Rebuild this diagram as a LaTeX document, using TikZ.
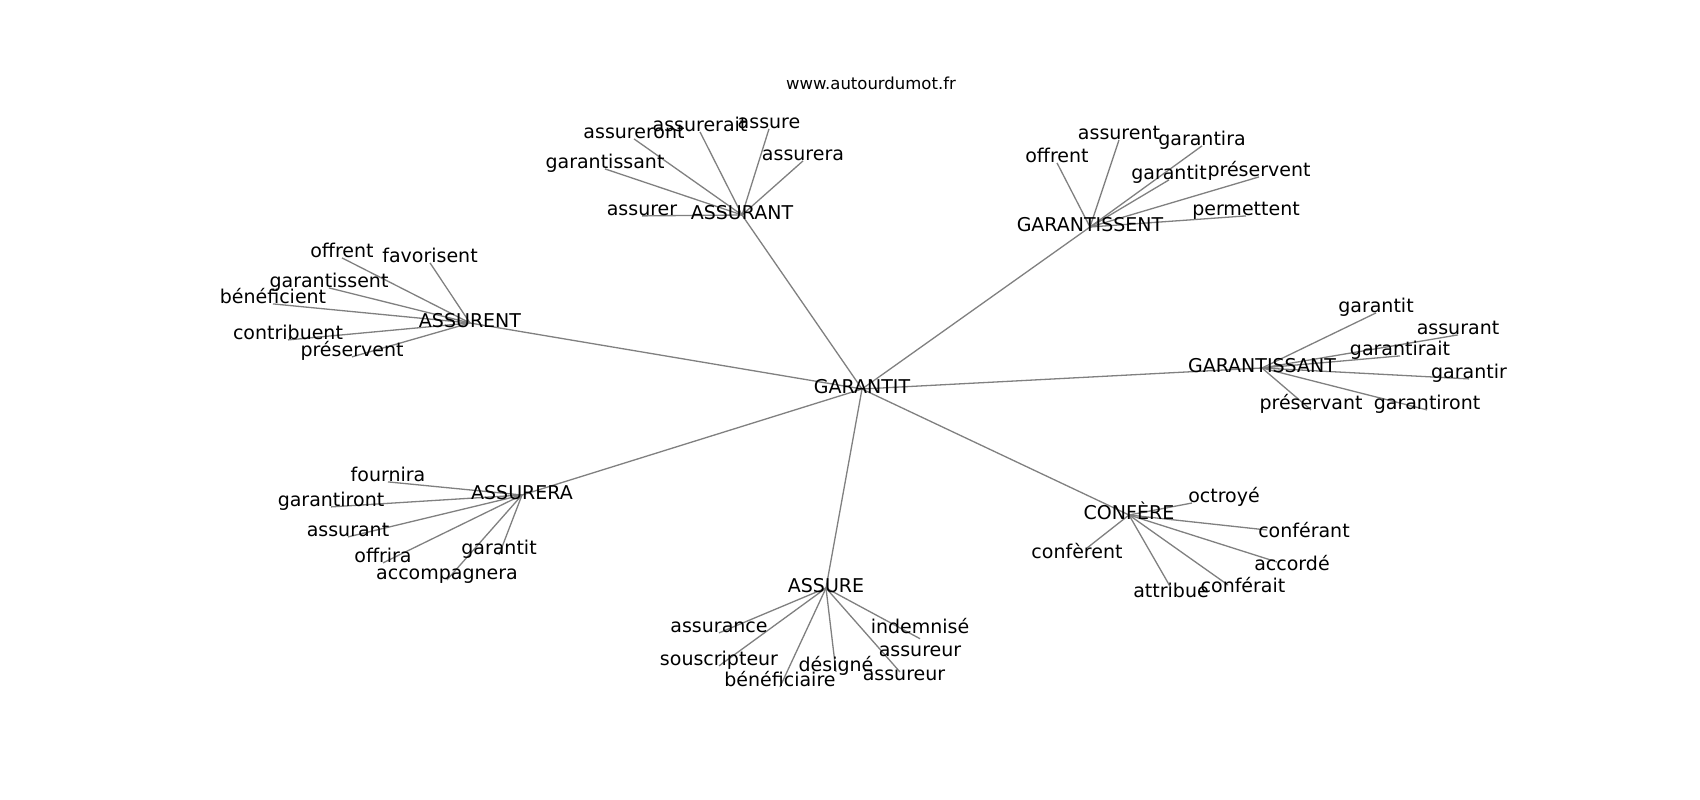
\documentclass[tikz,border=0pt]{standalone}
\usepackage{fontspec}
\setmainfont{DejaVu Sans}
\pgfdeclarelayer{background}
\pgfsetlayers{background,main}
\tikzset{
  lbl/.style={inner sep=0pt, text height=14.4pt, text depth=4.6pt, font=\fontsize{19}{22}\selectfont, text=black},
  web/.style={inner sep=0pt, font=\fontsize{16.5}{19}\selectfont, text=black},
  edge/.style={draw=black!50, line width=1.3pt}
}
\begin{document}
\begin{tikzpicture}[x=1pt,y=-1pt]
\useasboundingbox (0,0) rectangle (1700,800);
\node[web] (site) at (871,83) {www.autourdumot.fr};
% hubs
\node[lbl] (G) at (862,389) {GARANTIT};
\node[lbl] (h1) at (742,215) {ASSURANT};
\node[lbl] (h2) at (1090,227) {GARANTISSENT};
\node[lbl] (h3) at (470,323) {ASSURENT};
\node[lbl] (h4) at (1262,368) {GARANTISSANT};
\node[lbl] (h5) at (522,495) {ASSURERA};
\node[lbl] (h6) at (826,588) {ASSURE};
\node[lbl] (h7) at (1129,515) {CONFÈRE};
% ASSURANT leaves
\node[lbl] (a1) at (634,134) {assureront};
\node[lbl] (a2) at (700,127) {assurerait};
\node[lbl] (a3) at (769,124) {assure};
\node[lbl] (a4) at (803,156) {assurera};
\node[lbl] (a5) at (605,164) {garantissant};
\node[lbl] (a6) at (642,211) {assurer};
% GARANTISSENT leaves
\node[lbl] (b1) at (1057,158) {offrent};
\node[lbl] (b2) at (1119,135) {assurent};
\node[lbl] (b3) at (1202,141) {garantira};
\node[lbl] (b4) at (1169,175) {garantit};
\node[lbl] (b5) at (1259,172) {préservent};
\node[lbl] (b6) at (1246,211) {permettent};
% ASSURENT leaves
\node[lbl] (c1) at (342,253) {offrent};
\node[lbl] (c2) at (430,258) {favorisent};
\node[lbl] (c3) at (329,283) {garantissent};
\node[lbl] (c4) at (273,299) {bénéficient};
\node[lbl] (c5) at (288,335) {contribuent};
\node[lbl] (c6) at (352,352) {préservent};
% GARANTISSANT leaves
\node[lbl] (d1) at (1376,308) {garantit};
\node[lbl] (d2) at (1458,330) {assurant};
\node[lbl] (d3) at (1400,351) {garantirait};
\node[lbl] (d4) at (1469,374) {garantir};
\node[lbl] (d5) at (1311,405) {préservant};
\node[lbl] (d6) at (1427,405) {garantiront};
% ASSURERA leaves
\node[lbl] (e1) at (388,477) {fournira};
\node[lbl] (e2) at (331,502) {garantiront};
\node[lbl] (e3) at (348,532) {assurant};
\node[lbl] (e4) at (383,558) {offrira};
\node[lbl] (e5) at (499,550) {garantit};
\node[lbl] (e6) at (447,575) {accompagnera};
% ASSURE leaves
\node[lbl] (f1) at (719,628) {assurance};
\node[lbl] (f2) at (719,661) {souscripteur};
\node[lbl] (f3) at (780,682) {bénéficiaire};
\node[lbl] (f4) at (836,667) {désigné};
\node[lbl] (f5) at (920,629) {indemnisé};
\node[lbl] (f6) at (920,652) {assureur};
\node[lbl] (f7) at (904,676) {assureur};
% CONFERE leaves
\node[lbl] (g1) at (1224,498) {octroyé};
\node[lbl] (g2) at (1304,533) {conférant};
\node[lbl] (g3) at (1077,554) {confèrent};
\node[lbl] (g4) at (1292,566) {accordé};
\node[lbl] (g5) at (1171,593) {attribue};
\node[lbl] (g6) at (1243,588) {conférait};
\begin{pgfonlayer}{background}
\fill[white] (0,0) rectangle (1700,800);
\foreach \h in {h1,h2,h3,h4,h5,h6,h7} \draw[edge] (G.center) -- (\h.center);
\foreach \l in {a1,a2,a3,a4,a5,a6} \draw[edge] (h1.center) -- (\l.base);
\foreach \l in {b1,b2,b3,b4,b5,b6} \draw[edge] (h2.center) -- (\l.base);
\foreach \l in {c1,c2,c3,c4,c5,c6} \draw[edge] (h3.center) -- (\l.base);
\foreach \l in {d1,d2,d3,d4,d5,d6} \draw[edge] (h4.center) -- (\l.base);
\foreach \l in {e1,e2,e3,e4,e5,e6} \draw[edge] (h5.center) -- (\l.base);
\foreach \l in {f1,f2,f3,f4} \draw[edge] (h6.center) -- (\l.base);
\draw[edge] (h6.center) -- (f5.south);
\draw[edge] (h6.center) -- ([shift={(-4,-4)}]f7.center);
\draw[edge] (h7.center) -- ([shift={(-32,5)}]g1.center);
\draw[edge] (h7.center) -- ([shift={(-37,-3)}]g2.center);
\draw[edge] (h7.center) -- ([shift={(10,-6)}]g3.center);
\draw[edge] (h7.center) -- ([shift={(-15,-4)}]g4.center);
\draw[edge] (h7.center) -- ([shift={(0,-5)}]g5.center);
\draw[edge] (h7.center) -- ([shift={(-15,-3)}]g6.center);
\end{pgfonlayer}
\end{tikzpicture}
\end{document}
